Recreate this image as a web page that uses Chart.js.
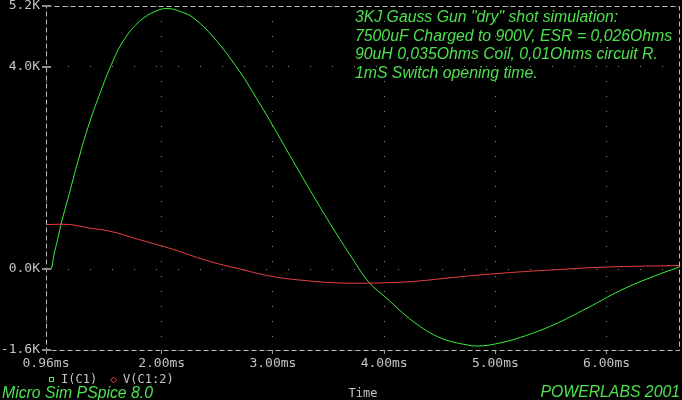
<!DOCTYPE html>
<html>
<head>
<meta charset="utf-8">
<title>Gauss gun dry shot</title>
<script src="https://cdn.jsdelivr.net/npm/chart.js@4.4.1/dist/chart.umd.min.js"></script>
<style>
  body { margin: 0; background: #000; }
  canvas { display: block; }
</style>
</head>
<body>
<canvas id="scope" width="682" height="400"></canvas>
<script>
// I(C1) (ms, kA)
const currentTime = [0.96, 1.005, 1.03, 1.066, 1.10, 1.156, 1.25, 1.352, 1.45, 1.532, 1.652, 1.802, 1.95, 2.057, 2.18, 2.282, 2.463, 2.703, 2.854, 2.974, 3.154, 3.334, 3.514, 3.694, 3.859, 4.024, 4.264, 4.505, 4.745, 4.85, 5.0, 5.227, 5.526, 5.827, 6.127, 6.427, 6.666];
const currentKA = [0, 0, 0.27, 0.60, 0.93, 1.38, 2.15, 2.90, 3.50, 3.96, 4.50, 4.90, 5.10, 5.15, 5.08, 4.97, 4.59, 3.90, 3.37, 2.93, 2.24, 1.56, 0.90, 0.28, -0.25, -0.58, -1.04, -1.36, -1.50, -1.52, -1.48, -1.35, -1.10, -0.77, -0.42, -0.14, 0.05];

// V(C1:2) (ms, kV)
const voltageTime = [0.96, 1.17, 1.352, 1.532, 1.802, 2.102, 2.403, 2.703, 3.003, 3.304, 3.544, 3.784, 4.024, 4.264, 4.625, 4.925, 5.226, 5.526, 6.0, 6.666];
const voltageKV = [0.88, 0.88, 0.81, 0.75, 0.58, 0.39, 0.17, 0.0, -0.15, -0.23, -0.27, -0.28, -0.27, -0.245, -0.165, -0.105, -0.055, -0.015, 0.04, 0.07];

const timeTicks = [0.96, 2, 3, 4, 5, 6];
const valueTicks = [-1.6, 0, 4.0, 5.2];
const seriesLabels = ['I(C1)', 'V(C1:2)'];
const noteLines = [
  '3KJ Gauss Gun "dry" shot simulation:',
  '7500uF Charged to 900V, ESR = 0,026Ohms',
  '90uH 0,035Ohms Coil, 0,01Ohms circuit R.',
  '1mS Switch opening time.'
];
const footerLeft = 'Micro Sim PSpice 8.0';
const footerRight = 'POWERLABS 2001';
const axisTitle = 'Time';

const green = '#3cf03c';
const red = '#e84040';
const textGreen = '#4fe04f';
const gray = '#c4c4c4';
const mono = '"DejaVu Sans Mono", monospace';
const sans = '"Liberation Sans", Arial, sans-serif';
const noteFont = 'italic 15.8px ' + sans;

function toPoints(xs, ys) {
  return xs.map((x, i) => ({ x: x, y: ys[i] }));
}

// text block, frame, legend and footer in PSpice style
const scopeDecor = {
  id: 'scopeDecor',
  beforeDraw(chart) {
    const ctx = chart.ctx;
    ctx.save();
    ctx.font = noteFont;
    ctx.fillStyle = textGreen;
    ctx.textBaseline = 'alphabetic';
    noteLines.forEach((line, i) => {
      ctx.fillText(line, 355, 22 + i * 18.5);
    });
    ctx.restore();
  },
  afterDatasetsDraw(chart) {
    const { ctx, chartArea } = chart;
    ctx.save();
    ctx.strokeStyle = '#bdbdbd';
    ctx.lineWidth = 1;
    ctx.setLineDash([5, 3]);
    ctx.strokeRect(chartArea.left + 0.5, chartArea.top + 0.5,
      chartArea.right - chartArea.left - 1, chartArea.bottom - chartArea.top);
    ctx.setLineDash([]);
    // y tick crosses on the left axis
    ctx.strokeStyle = '#8c8c8c';
    ctx.lineWidth = 2;
    const y = chart.scales.y;
    valueTicks.forEach(v => {
      const py = Math.round(y.getPixelForValue(v));
      ctx.beginPath();
      ctx.moveTo(chartArea.left - 4, py);
      ctx.lineTo(chartArea.left + 5, py);
      ctx.stroke();
    });
    ctx.restore();
  },
  afterDraw(chart) {
    const { ctx, chartArea } = chart;
    ctx.save();
    // legend
    ctx.font = '12px ' + mono;
    ctx.textBaseline = 'middle';
    let lx = chartArea.left + 3;
    const ly = 380;
    chart.data.datasets.forEach((ds, i) => {
      ctx.strokeStyle = ds.borderColor;
      ctx.lineWidth = 1;
      if (i === 0) {
        ctx.strokeRect(lx + 0.5, ly - 2.5, 4, 4);
      } else {
        ctx.beginPath();
        ctx.moveTo(lx + 2.5, ly - 3);
        ctx.lineTo(lx + 5.5, ly);
        ctx.lineTo(lx + 2.5, ly + 3);
        ctx.lineTo(lx - 0.5, ly);
        ctx.closePath();
        ctx.stroke();
      }
      ctx.fillStyle = gray;
      ctx.fillText(ds.label, lx + 12, ly);
      lx += 12 + ctx.measureText(ds.label).width + 14;
    });
    // axis title
    ctx.textAlign = 'center';
    ctx.fillText(axisTitle, (chartArea.left + chartArea.right) / 2, 394);
    // footer
    ctx.font = noteFont;
    ctx.fillStyle = textGreen;
    ctx.textBaseline = 'alphabetic';
    ctx.textAlign = 'left';
    ctx.fillText(footerLeft, 2, 398);
    ctx.textAlign = 'right';
    ctx.fillText(footerRight, chartArea.right, 397);
    ctx.restore();
  }
};

new Chart(document.getElementById('scope'), {
  type: 'line',
  data: {
    datasets: [
      {
        label: seriesLabels[0],
        data: toPoints(currentTime, currentKA),
        borderColor: green,
        borderWidth: 1,
        pointRadius: 0,
        tension: 0.4,
        order: 2
      },
      {
        label: seriesLabels[1],
        data: toPoints(voltageTime, voltageKV),
        borderColor: red,
        borderWidth: 1,
        pointRadius: 0,
        tension: 0.4,
        order: 1
      }
    ]
  },
  options: {
    responsive: false,
    animation: false,
    devicePixelRatio: 1,
    layout: { padding: { top: 6, right: 2, left: 0, bottom: 0 } },
    plugins: {
      legend: { display: false },
      tooltip: { enabled: false }
    },
    scales: {
      x: {
        type: 'linear',
        min: 0.96,
        max: 6.66,
        afterBuildTicks: s => { s.ticks = timeTicks.map(v => ({ value: v })); },
        afterFit: s => { s.height = 50; s.paddingLeft = 0; s.paddingRight = 0; },
        border: { display: false, dash: [1, 14] },
        grid: {
          color: '#8a8a8a',
          drawTicks: true,
          tickLength: 4,
          tickColor: '#9a9a9a'
        },
        ticks: {
          autoSkip: false,
          maxRotation: 0,
          padding: 2,
          color: gray,
          font: { family: mono, size: 13 },
          callback: v => v.toFixed(2) + 'ms'
        }
      },
      y: {
        min: -1.6,
        max: 5.2,
        afterBuildTicks: s => { s.ticks = valueTicks.map(v => ({ value: v })); },
        afterFit: s => { s.width = 46; s.paddingTop = 0; s.paddingBottom = 0; },
        border: { display: false, dash: [1, 21] },
        grid: {
          color: '#8a8a8a',
          drawTicks: false
        },
        ticks: {
          autoSkip: false,
          padding: 6,
          color: gray,
          font: { family: mono, size: 13 },
          callback: v => v.toFixed(1) + 'K'
        }
      }
    }
  },
  plugins: [scopeDecor]
});
</script>
</body>
</html>
